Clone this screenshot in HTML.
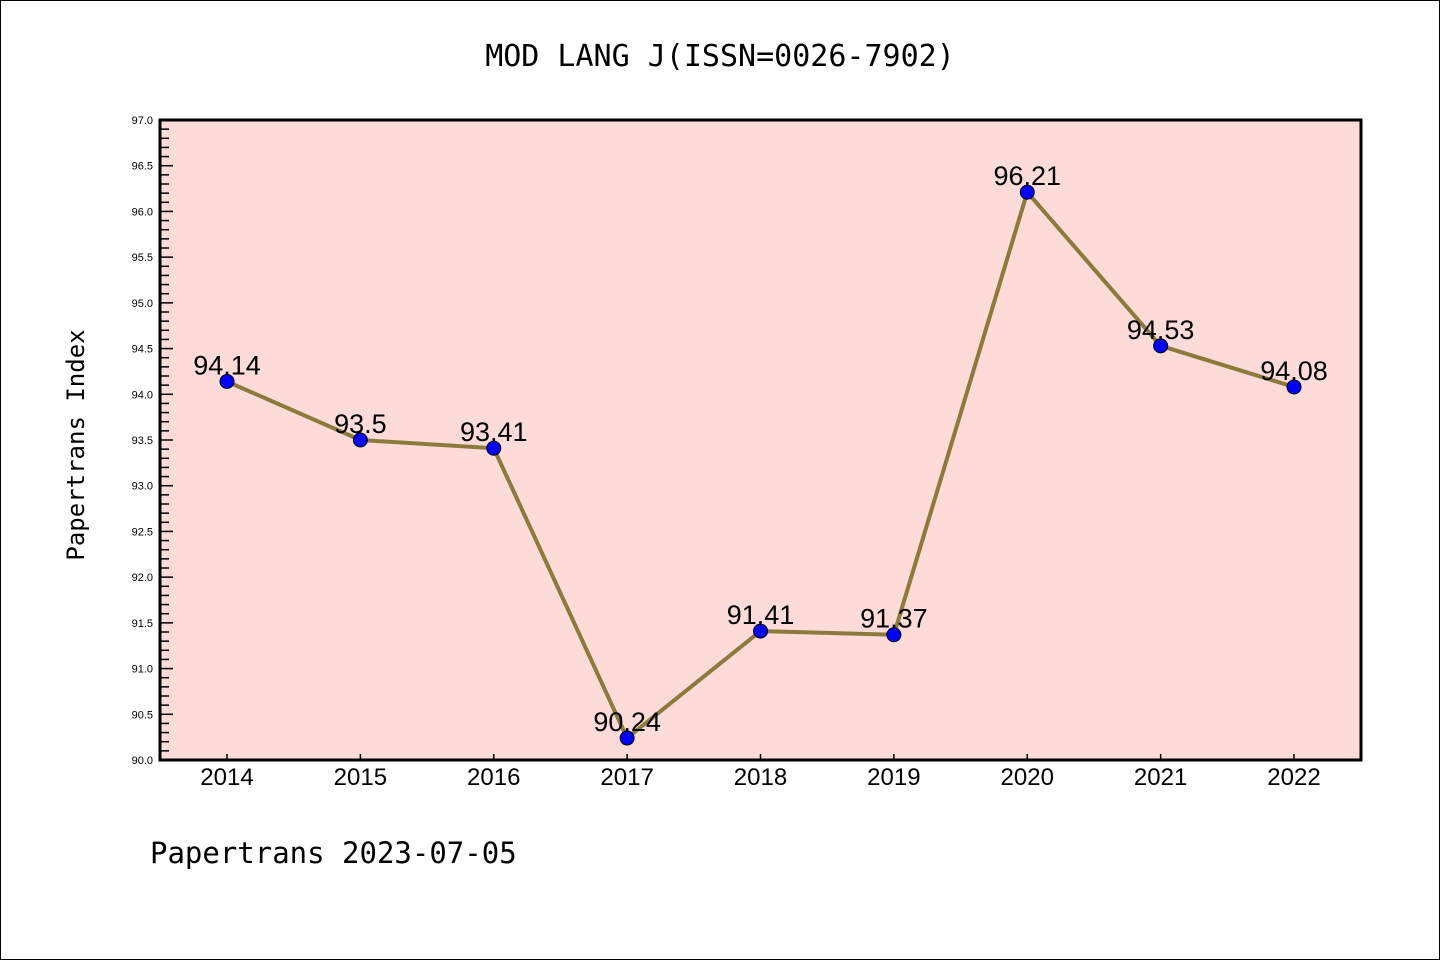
<!DOCTYPE html>
<html><head><meta charset="utf-8"><style>
body{margin:0;background:#fff}
svg{display:block;font-family:"Liberation Sans","DejaVu Sans",sans-serif}
</style></head><body>
<svg id="c" width="1440" height="960">
<rect x="0.5" y="0.5" width="1439" height="959" fill="#fff" stroke="#000"/>
<text x="720" y="66" text-anchor="middle" font-size="30" font-family="DejaVu Sans Mono, Liberation Mono, monospace">MOD LANG J(ISSN=0026-7902)</text>
<rect x="160" y="120" width="1201" height="640" fill="#fddbd8"/>
<g id="ticks"></g>
<g id="marks"></g>
<rect x="160" y="120" width="1201" height="640" fill="none" stroke="#000" stroke-width="3"/>
<text transform="translate(84,445) rotate(-90)" text-anchor="middle" font-size="24" font-family="DejaVu Sans Mono, Liberation Mono, monospace">Papertrans Index</text>
<text x="150" y="863" font-size="29" font-family="DejaVu Sans Mono, Liberation Mono, monospace">Papertrans 2023-07-05</text>
</svg>
<script>
const years=["2014","2015","2016","2017","2018","2019","2020","2021","2022"];
const values=[94.14,93.5,93.41,90.24,91.41,91.37,96.21,94.53,94.08];
const labels=["94.14","93.5","93.41","90.24","91.41","91.37","96.21","94.53","94.08"];
const yTicks=["90.0","90.5","91.0","91.5","92.0","92.5","93.0","93.5","94.0","94.5","95.0","95.5","96.0","96.5","97.0"];
const NS="http://www.w3.org/2000/svg";
const yMin=90,yMax=97,yTopPx=120,yBotPx=760;
function ys(v){return yBotPx-(v-yMin)/(yMax-yMin)*(yBotPx-yTopPx);}
function xs(i){return 227+i*(1294-227)/(years.length-1);}
function mk(t,a,p){const e=document.createElementNS(NS,t);for(const k in a)e.setAttribute(k,a[k]);p.appendChild(e);return e;}
const tg=document.getElementById('ticks'),mg=document.getElementById('marks');
for(let k=0;k<=70;k++){const v=yMin+k*0.1,y=ys(v),maj=k%5===0;
 const l=mk('line',{x1:160,x2:160+(maj?13:9),y1:y,y2:y,stroke:'#000','stroke-width':1.5},tg);
 
 }
yTicks.forEach(s=>{const t=mk('text',{x:153,y:ys(parseFloat(s))+4,'text-anchor':'end','font-size':11},tg);t.textContent=s;
 
 });
years.forEach((yr,i)=>{const x=xs(i);
 const l=mk('line',{x1:x,x2:x,y1:760,y2:754,stroke:'#000','stroke-width':1.5},tg);
 
 
 const t=mk('text',{x:x,y:785,'text-anchor':'middle','font-size':24},tg);t.textContent=yr;
 
 });
const pts=values.map((v,i)=>xs(i)+','+ys(v)).join(' ');
const pl=mk('polyline',{points:pts,fill:'none',stroke:'#8b7a3a','stroke-width':4,'stroke-linejoin':'round'},mg);


values.forEach((v,i)=>{const c=mk('circle',{cx:xs(i),cy:ys(v),r:7,fill:'#0000ff',stroke:'#000','stroke-width':1},mg);
 
 
 const t=mk('text',{x:xs(i),y:ys(v)-7,'text-anchor':'middle','font-size':27},mg);t.textContent=labels[i];
 
 });
</script>
</body></html>
